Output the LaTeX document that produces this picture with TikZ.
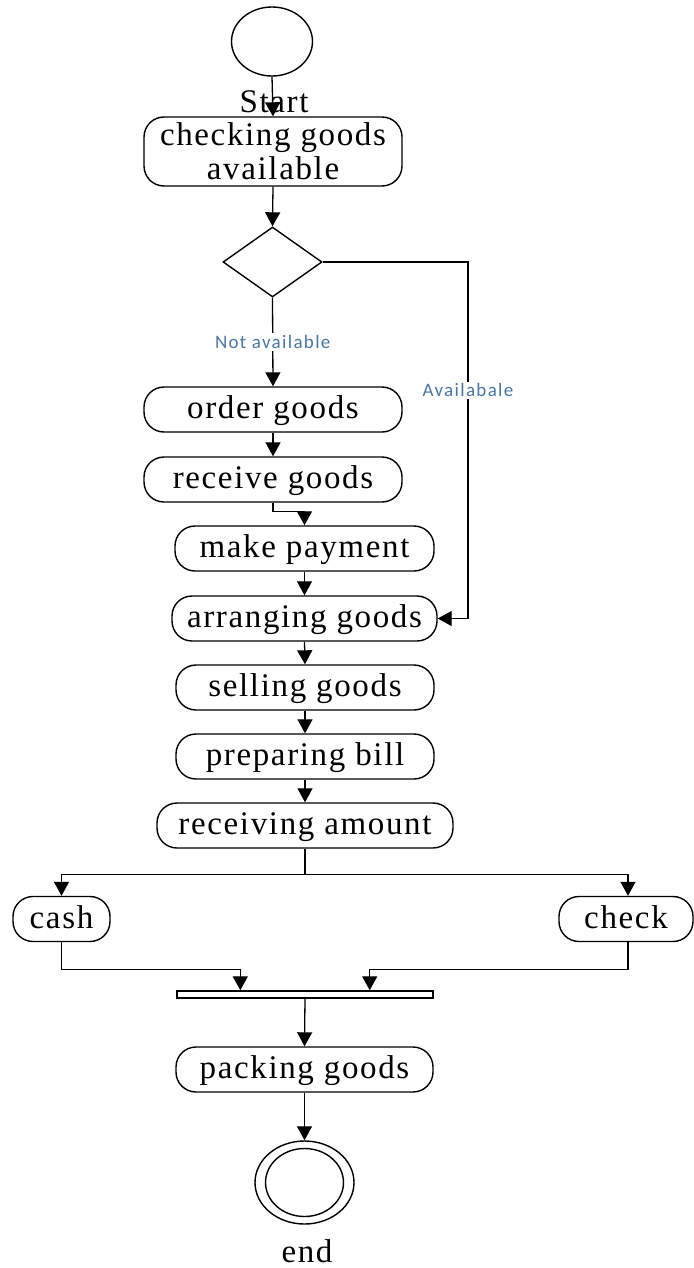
\documentclass[tikz,border=0pt]{standalone}
\usepackage{fontspec}
\setmainfont{Liberation Serif}[LetterSpace=5]
\newfontfamily\labelfont{Carlito}[LetterSpace=7]
\usetikzlibrary{shapes.geometric,arrows.meta}
\definecolor{guardblue}{HTML}{4A76A6}
\begin{document}
\begin{tikzpicture}[x=1pt,y=-1pt,
  every node/.style={line width=1.4pt},
  act/.style={draw, rectangle, rounded corners=20pt, minimum height=45pt,
    inner sep=0pt, font=\fontsize{33}{34}\selectfont, align=center},
  onerow/.style={act, text height=24pt, text depth=6pt},
  flow/.style={line width=1.3pt, -{Triangle[width=15pt,length=14pt]}},
  wire/.style={line width=1.3pt},
  guard/.style={font=\labelfont\fontsize{19}{20}\selectfont, text=guardblue,
    fill=white, inner sep=2pt},
  caption/.style={font=\fontsize{33}{34}\selectfont, inner sep=0pt}]
\useasboundingbox (0,0) rectangle (693,1268);

% initial state
\node[draw, ellipse, minimum width=81pt, minimum height=69pt, inner sep=0pt] (start) at (272,41.5) {};
\node[caption] (startlbl) at (274,102) {Start};

% activities
\node[act, minimum width=258pt, minimum height=69pt] (chk) at (273,151.5) {checking goods\\available};
\node[draw, diamond, minimum width=99pt, minimum height=70pt, inner sep=0pt] (dec) at (272.5,262) {};
\node[onerow, minimum width=258pt] (order) at (273,409.5) {order goods};
\node[onerow, minimum width=258pt] (recv) at (273,479.5) {receive goods};
\node[onerow, minimum width=259pt] (pay) at (304.5,548.5) {make payment};
\node[onerow, minimum width=265pt] (arr) at (304.5,618.5) {arranging goods};
\node[onerow, minimum width=258pt] (sell) at (305,687.5) {selling goods};
\node[onerow, minimum width=258pt] (prep) at (305,756.5) {preparing bill};
\node[onerow, minimum width=296pt] (recamt) at (305,825.5) {receiving amount};
\node[onerow, minimum width=97pt] (cash) at (61.5,919) {cash};
\node[onerow, minimum width=134pt] (chq) at (626,919) {check};

% join bar
\node[draw, rectangle, minimum width=256pt, minimum height=7pt, inner sep=0pt] (bar) at (305,994.5) {};

\node[onerow, minimum width=257pt] (pack) at (304.5,1069.5) {packing goods};

% final state
\node[draw, ellipse, minimum width=99pt, minimum height=83pt, inner sep=0pt] (endo) at (304.5,1182.5) {};
\node[draw, ellipse, minimum width=78pt, minimum height=68pt, inner sep=0pt] (endi) at (304.5,1182.5) {};
\node[caption] (endlbl) at (307,1251) {end};

% connectors
\draw[flow] (start.south) -- (chk.north);
\draw[flow] (chk.south) -- (dec.north);
\draw[flow] (dec.south) -- node[guard] {Not available} (order.north);
\coordinate (avcorner) at (468,262);
\draw[flow] (dec.east) -- (avcorner) -- node[guard, pos=0.36] {Availabale} (avcorner |- arr.east) -- (arr.east);
\draw[flow] (order.south) -- (recv.north);
\draw[flow] (recv.south) -- ++(0,9) -| (pay.north);
\draw[flow] (pay.south) -- (arr.north);
\draw[flow] (arr.south) -- (sell.north);
\draw[flow] (sell.south) -- (prep.north);
\draw[flow] (prep.south) -- (recamt.north);
\draw[wire] (recamt.south) -- ++(0,26) coordinate (split);
\draw[flow] (split) -| (cash.north);
\draw[flow] (split) -| ([xshift=2pt]chq.north);
\draw[flow] (cash.south) -- ++(0,27) -| ([xshift=64pt]bar.north west);
\draw[flow] ([xshift=2pt]chq.south) -- ++(0,27) -| ([xshift=-64pt]bar.north east);
\draw[flow] (bar.south) -- (pack.north);
\draw[flow] (pack.south) -- (endo.north);
\end{tikzpicture}
\end{document}
